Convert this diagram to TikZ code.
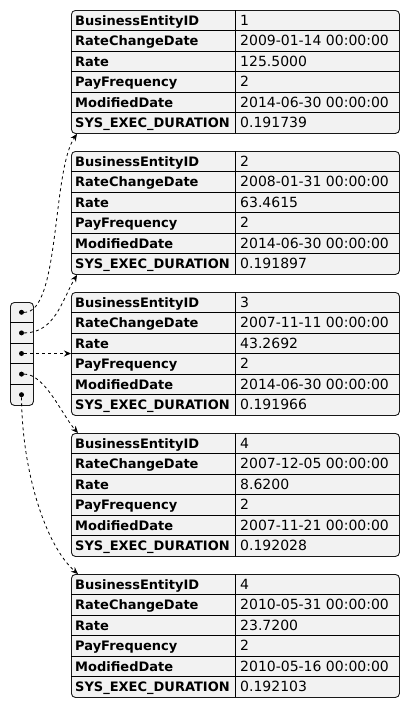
\documentclass[tikz,border=0pt]{standalone}
\usepackage{fontspec}
\setmainfont{DejaVu Sans}
\usetikzlibrary{positioning,calc,arrows.meta}

\begin{document}
\begin{tikzpicture}[x=1pt,y=-1pt,
  tbl/.style={draw=black!90,line width=0.9pt,fill=gray!10,rounded corners=4pt,inner sep=0pt},
  key/.style={anchor=base west,inner sep=0pt,font=\fontsize{13}{15}\selectfont\bfseries},
  val/.style={anchor=base west,inner sep=0pt,font=\fontsize{14}{16}\selectfont},
  dot/.style={circle,fill=black,inner sep=0pt,minimum size=5pt},
  link/.style={dash pattern=on 3pt off 3pt,line width=0.8pt,-{Stealth[length=7pt,width=6pt]}}]
\useasboundingbox (0,0) rectangle (410,707);

% Rows
\foreach \t/\y/\id/\chg/\rate/\mod/\dur in {
    t1/10/1/2009-01-14 00:00:00/125.5000/2014-06-30 00:00:00/0.191739,
    t2/151/2/2008-01-31 00:00:00/63.4615/2014-06-30 00:00:00/0.191897,
    t3/292/3/2007-11-11 00:00:00/43.2692/2014-06-30 00:00:00/0.191966,
    t4/433/4/2007-12-05 00:00:00/8.6200/2007-11-21 00:00:00/0.192028,
    t5/574/4/2010-05-31 00:00:00/23.7200/2010-05-16 00:00:00/0.192103} {
    \node[tbl,minimum width=328pt,minimum height=123pt,anchor=north west] (\t) at (71,\y) {};
    \draw[line width=0.9pt] (235,\y) -- (235,{\y+123});
    \foreach \r in {1,...,5} {
        \draw[line width=0.9pt] (71,{\y+\r*20.5}) -- (399,{\y+\r*20.5});
    }
    \foreach \r/\k in {1/BusinessEntityID, 2/RateChangeDate, 3/Rate, 4/PayFrequency, 5/ModifiedDate, 6/SYS\_EXEC\_DURATION} {
        \node[key] at (75,{\y+\r*20.5-5.5}) {\k};
    }
    \foreach \r/\v in {1/\id, 2/\chg, 3/\rate, 4/2, 5/\mod, 6/\dur} {
        \node[val] at (240,{\y+\r*20.5-5.5}) {\v};
    }
}

% Pointer array
\node[tbl,minimum width=23pt,minimum height=103pt,anchor=north west] (ptr) at (10,302) {};
\foreach \i in {1,...,4} {
    \draw[line width=0.9pt] (10,{302+\i*20.6}) -- (33,{302+\i*20.6});
}
\foreach \i in {1,...,5} {
    \node[dot] (p\i) at (21.5,{302+\i*20.6-10.3}) {};
}

% Links
\draw[link] (p1) .. controls (60,313) and (52,170) .. ($(t1.south west)+(6,0)$);
\draw[link] (p2) .. controls (55,333) and (62,300) .. ($(t2.south west)+(6,0)$);
\draw[link] (p3) -- (t3.west |- p3);
\draw[link] (p4) .. controls (45,374) and (62,415) .. ($(t4.north west)+(7,0)$);
\draw[link] (p5) .. controls (22,470) and (45,545) .. ($(t5.north west)+(7,0)$);
\end{tikzpicture}
\end{document}
